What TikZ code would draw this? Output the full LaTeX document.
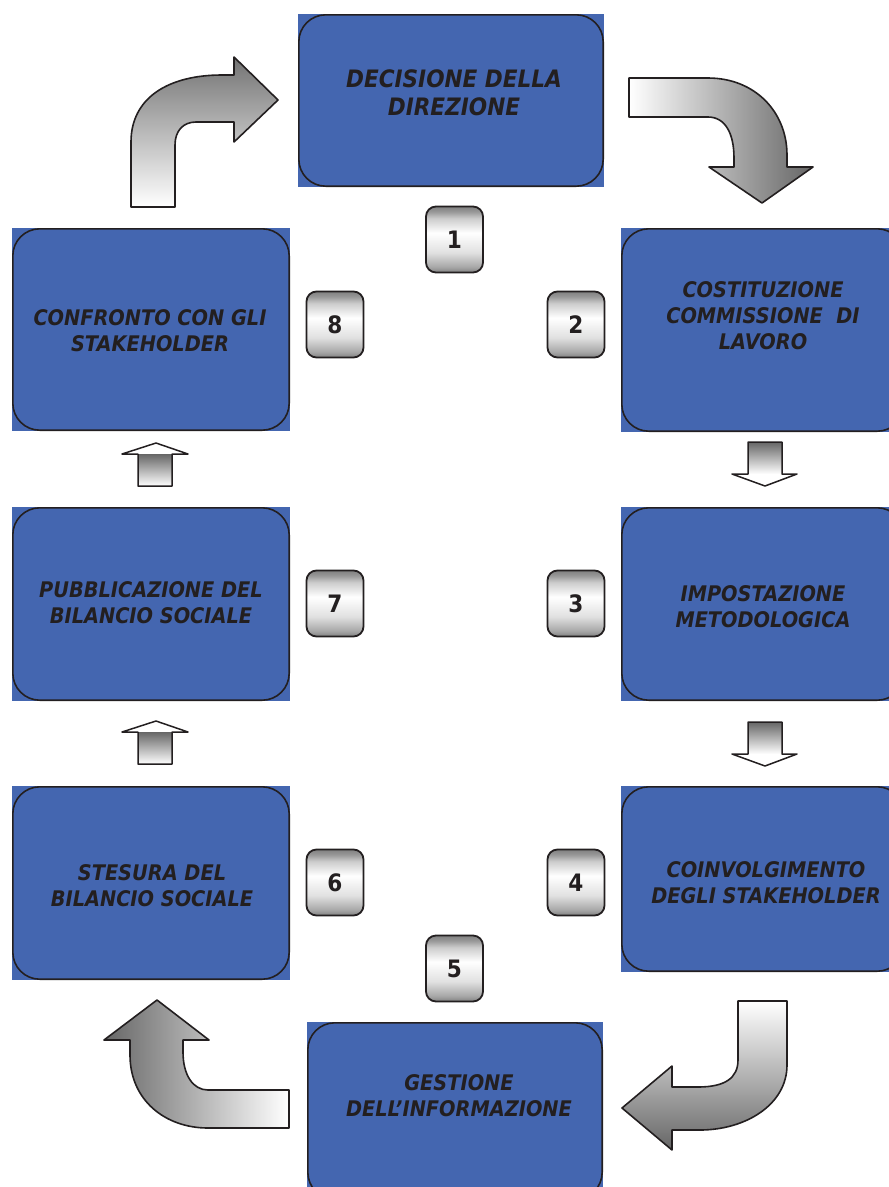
\documentclass[tikz,border=0pt]{standalone}
\usepackage{fontspec}
\setmainfont{DejaVu Sans}[FakeStretch=0.9]
\definecolor{boxblue}{RGB}{68,102,176}
\definecolor{ink}{RGB}{35,31,32}
% metallic look of the small number plates
\pgfdeclareverticalshading{metal}{100bp}{color(0bp)=(black!50); color(25bp)=(black!50);
  color(29bp)=(black!35); color(40bp)=(black!12); color(55bp)=(white); color(66bp)=(black!20);
  color(71bp)=(black!40); color(75bp)=(black!50); color(100bp)=(black!50)}
\begin{document}
\begin{tikzpicture}[x=1pt, y=-1pt, line join=round,
  stepbox/.style={rectangle, fill=boxblue, inner sep=0pt},
  steptext/.style={align=center, text=ink, font=\bfseries\itshape\fontsize{21.5}{26}\selectfont},
  numbox/.style={rectangle, rounded corners=10pt, draw=ink, line width=1.8pt, shading=metal,
    minimum width=57pt, minimum height=66pt, inner sep=0pt, text=ink, font=\bfseries\fontsize{24}{26}\selectfont},
  frame/.style={draw=ink, line width=1.6pt, rounded corners=27pt},
  bigarrow/.style={draw=ink, line width=1.6pt}]
\useasboundingbox (0,0) rectangle (889,1187);

% the eight steps
\node[stepbox, minimum width=306pt, minimum height=173pt] (b1) at (451,100.5) {};
\node[stepbox, minimum width=284pt, minimum height=204pt] (b2) at (763,330) {};
\node[stepbox, minimum width=284pt, minimum height=194pt] (b3) at (763,604) {};
\node[stepbox, minimum width=284pt, minimum height=186pt] (b4) at (763,879) {};
\node[stepbox, minimum width=296pt, minimum height=178pt] (b5) at (455,1111) {};
\node[stepbox, minimum width=278pt, minimum height=194pt] (b6) at (151,883) {};
\node[stepbox, minimum width=278pt, minimum height=194pt] (b7) at (151,604) {};
\node[stepbox, minimum width=278pt, minimum height=203pt] (b8) at (151,329.5) {};
\foreach \i in {1,...,8}
  \draw[frame] ([shift={(1,1)}]b\i.north west) rectangle ([shift={(-1,-1)}]b\i.south east);

\node[steptext, font=\bfseries\itshape\fontsize{24}{28}\selectfont] (t1) at (454,93) {DECISIONE DELLA\\DIREZIONE};
\node[steptext] (t2) at (763,316) {COSTITUZIONE\\COMMISSIONE~ DI\\LAVORO};
\node[steptext] (t3) at (763,607) {IMPOSTAZIONE\\METODOLOGICA};
\node[steptext] (t4) at (766,883) {COINVOLGIMENTO\\DEGLI STAKEHOLDER};
\node[steptext] (t5) at (459,1096) {GESTIONE\\DELL'INFORMAZIONE};
\node[steptext] (t6) at (152,886) {STESURA DEL\\BILANCIO SOCIALE};
\node[steptext] (t7) at (151,603) {PUBBLICAZIONE DEL\\BILANCIO SOCIALE};
\node[steptext] (t8) at (150,331) {CONFRONTO CON GLI\\STAKEHOLDER};

% numbers
\foreach \n/\x/\y in {1/454.5/239.5, 2/576/324.5, 3/576/603.5, 4/576/882.5,
                      5/454.5/968.5, 6/335/882.5, 7/335/603.5, 8/335/324.5}
  \node[numbox] (n\n) at (\x,\y) {\n};

% curved arrows at the corners
\draw[bigarrow, top color=black!55, bottom color=white]
  (131,207) -- (131,142) .. controls (131,98) and (168,75) .. (222,75) -- (234,75)
  -- (234,57) -- (278,100) -- (234,142) -- (234,122) -- (196,122)
  .. controls (183,122) and (175,131) .. (175,145) -- (175,207) -- cycle;
\draw[bigarrow, left color=white, right color=black!60]
  (629,78) -- (708,78) .. controls (755,78) and (787,112) .. (787,155) -- (787,167)
  -- (813,167) -- (762,203) -- (709,167) -- (734,167) -- (734,158)
  .. controls (734,133) and (725,117) .. (708,117) -- (629,117) -- cycle;
\draw[bigarrow, top color=white, bottom color=black!60]
  (738,1001) -- (787,1001) -- (787,1065) .. controls (787,1105) and (745,1130) .. (700,1130)
  -- (672,1130) -- (672,1150) -- (622,1108) -- (672,1066) -- (672,1087) -- (698,1087)
  .. controls (725,1087) and (738,1078) .. (738,1060) -- cycle;
\draw[bigarrow, left color=black!60, right color=white]
  (289,1090) -- (208,1090) .. controls (193,1090) and (183,1075) .. (183,1052) -- (183,1040)
  -- (209,1040) -- (157,1000) -- (104,1040) -- (130,1040) -- (130,1055)
  .. controls (130,1100) and (165,1128) .. (208,1128) -- (289,1128) -- cycle;

% small arrows between the boxes
\foreach \y in {442,722} {
  \shade[top color=black!60, bottom color=white] (748,\y) rectangle (782,\y+32);
  \draw[bigarrow, line width=1.5pt] (748,\y) -- (782,\y) -- (782,\y+32) -- (797,\y+32)
    -- (765,\y+44) -- (732,\y+32) -- (748,\y+32) -- cycle;
}
\foreach \y in {443,721} {
  \shade[top color=black!60, bottom color=white] (138,\y+11) rectangle (172,\y+43);
  \draw[bigarrow, line width=1.5pt] (138,\y+43) -- (138,\y+11) -- (122,\y+11) -- (156,\y)
    -- (188,\y+11) -- (172,\y+11) -- (172,\y+43) -- cycle;
}
\end{tikzpicture}
\end{document}
